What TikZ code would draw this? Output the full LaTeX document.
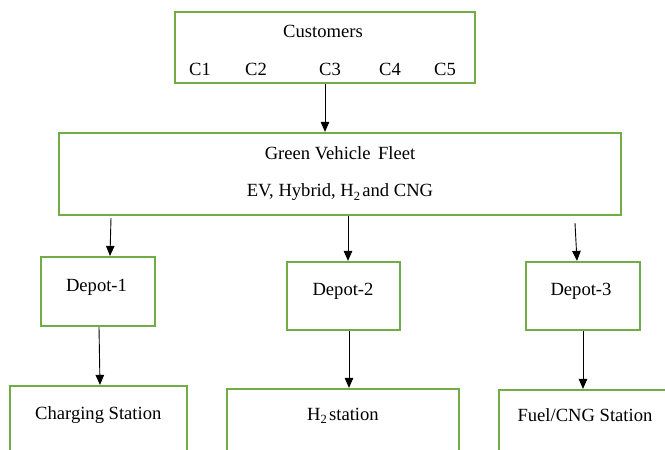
\documentclass[tikz,border=0pt]{standalone}
\usepackage{fontspec}
\setmainfont{Liberation Serif}
\usetikzlibrary{arrows.meta}
\definecolor{boxgreen}{HTML}{70AD47}
% lowered small index, as in H2
\newcommand\lowidx[1]{\raisebox{-0.2em}{\fontsize{12.5pt}{12.5pt}\selectfont #1}}
\tikzset{
  box/.style={draw=boxgreen, line width=2.2pt, rectangle, inner sep=0pt, fill=none},
  txt/.style={inner sep=0pt, anchor=base, font=\fontsize{18.6pt}{22pt}\selectfont},
  arr/.style={draw=black, line width=0.9pt, -{Triangle[length=10pt,width=8.5pt]}},
}
\begin{document}
\begin{tikzpicture}[x=1pt,y=-1pt]
\useasboundingbox (0,0) rectangle (665,450);
\clip (0,0) rectangle (665,450);
\fill[white] (0,0) rectangle (665,450);

% boxes
\node[box, minimum width=300pt, minimum height=71pt] (cust) at (325,47.5) {};
\node[box, minimum width=562pt, minimum height=82pt] (fleet) at (340,174) {};
\node[box, minimum width=114pt, minimum height=69pt] (dep1) at (98,291.5) {};
\node[box, minimum width=113pt, minimum height=68pt] (dep2) at (343.5,296) {};
\node[box, minimum width=114pt, minimum height=68pt] (dep3) at (583,296) {};
\node[box, minimum width=177pt, minimum height=84pt] (chg) at (98.5,428) {};
\node[box, minimum width=232pt, minimum height=81pt] (htwo) at (343,429.5) {};
\node[box, minimum width=181pt, minimum height=80pt] (fuel) at (589.5,430) {};

% texts
\node[txt] (custlbl) at (323,37) {Customers};
\node[txt] (c1) at (200,75.3) {C1};
\node[txt] (c2) at (256,75.3) {C2};
\node[txt] (c3) at (330,75.3) {C3};
\node[txt] (c4) at (390,75.3) {C4};
\node[txt] (c5) at (445,75.3) {C5};
\node[txt] (fleetlbl) at (340,159) {Green Vehicle\hspace{0.15em} Fleet};
\node[txt] (fleettypes) at (340,196.7) {EV, Hybrid, H\lowidx{2}\hspace{0.12em}and CNG};
\node[txt] (dep1lbl) at (96.5,291.7) {Depot-1};
\node[txt] (dep2lbl) at (343,295.7) {Depot-2};
\node[txt] (dep3lbl) at (581,295.3) {Depot-3};
\node[txt] (chglbl) at (98.3,419) {Charging Station};
\node[txt] (htwolbl) at (343,420) {H\lowidx{2}\hspace{0.12em}station};
\node[txt] (fuellbl) at (585,421.7) {Fuel/CNG Station};

% connectors
\draw[arr] (cust.south) -- (cust.south |- fleet.north);
\draw[arr] ([xshift=-229pt,yshift=-2pt]fleet.south) -- ([xshift=12pt]dep1.north);
\draw[arr] ([xshift=8pt]fleet.south) -- ([xshift=4.5pt]dep2.north);
\draw[arr] ([xshift=235pt,yshift=-7pt]fleet.south) -- ([xshift=-6pt]dep3.north);
\draw[arr] ([xshift=1pt]dep1.south) -- ([xshift=1.5pt]chg.north);
\draw[arr] ([xshift=5.5pt]dep2.south) -- ([xshift=6pt]htwo.north);
\draw[arr] (dep3.south) -- ([xshift=-6.5pt]fuel.north);
\end{tikzpicture}
\end{document}
